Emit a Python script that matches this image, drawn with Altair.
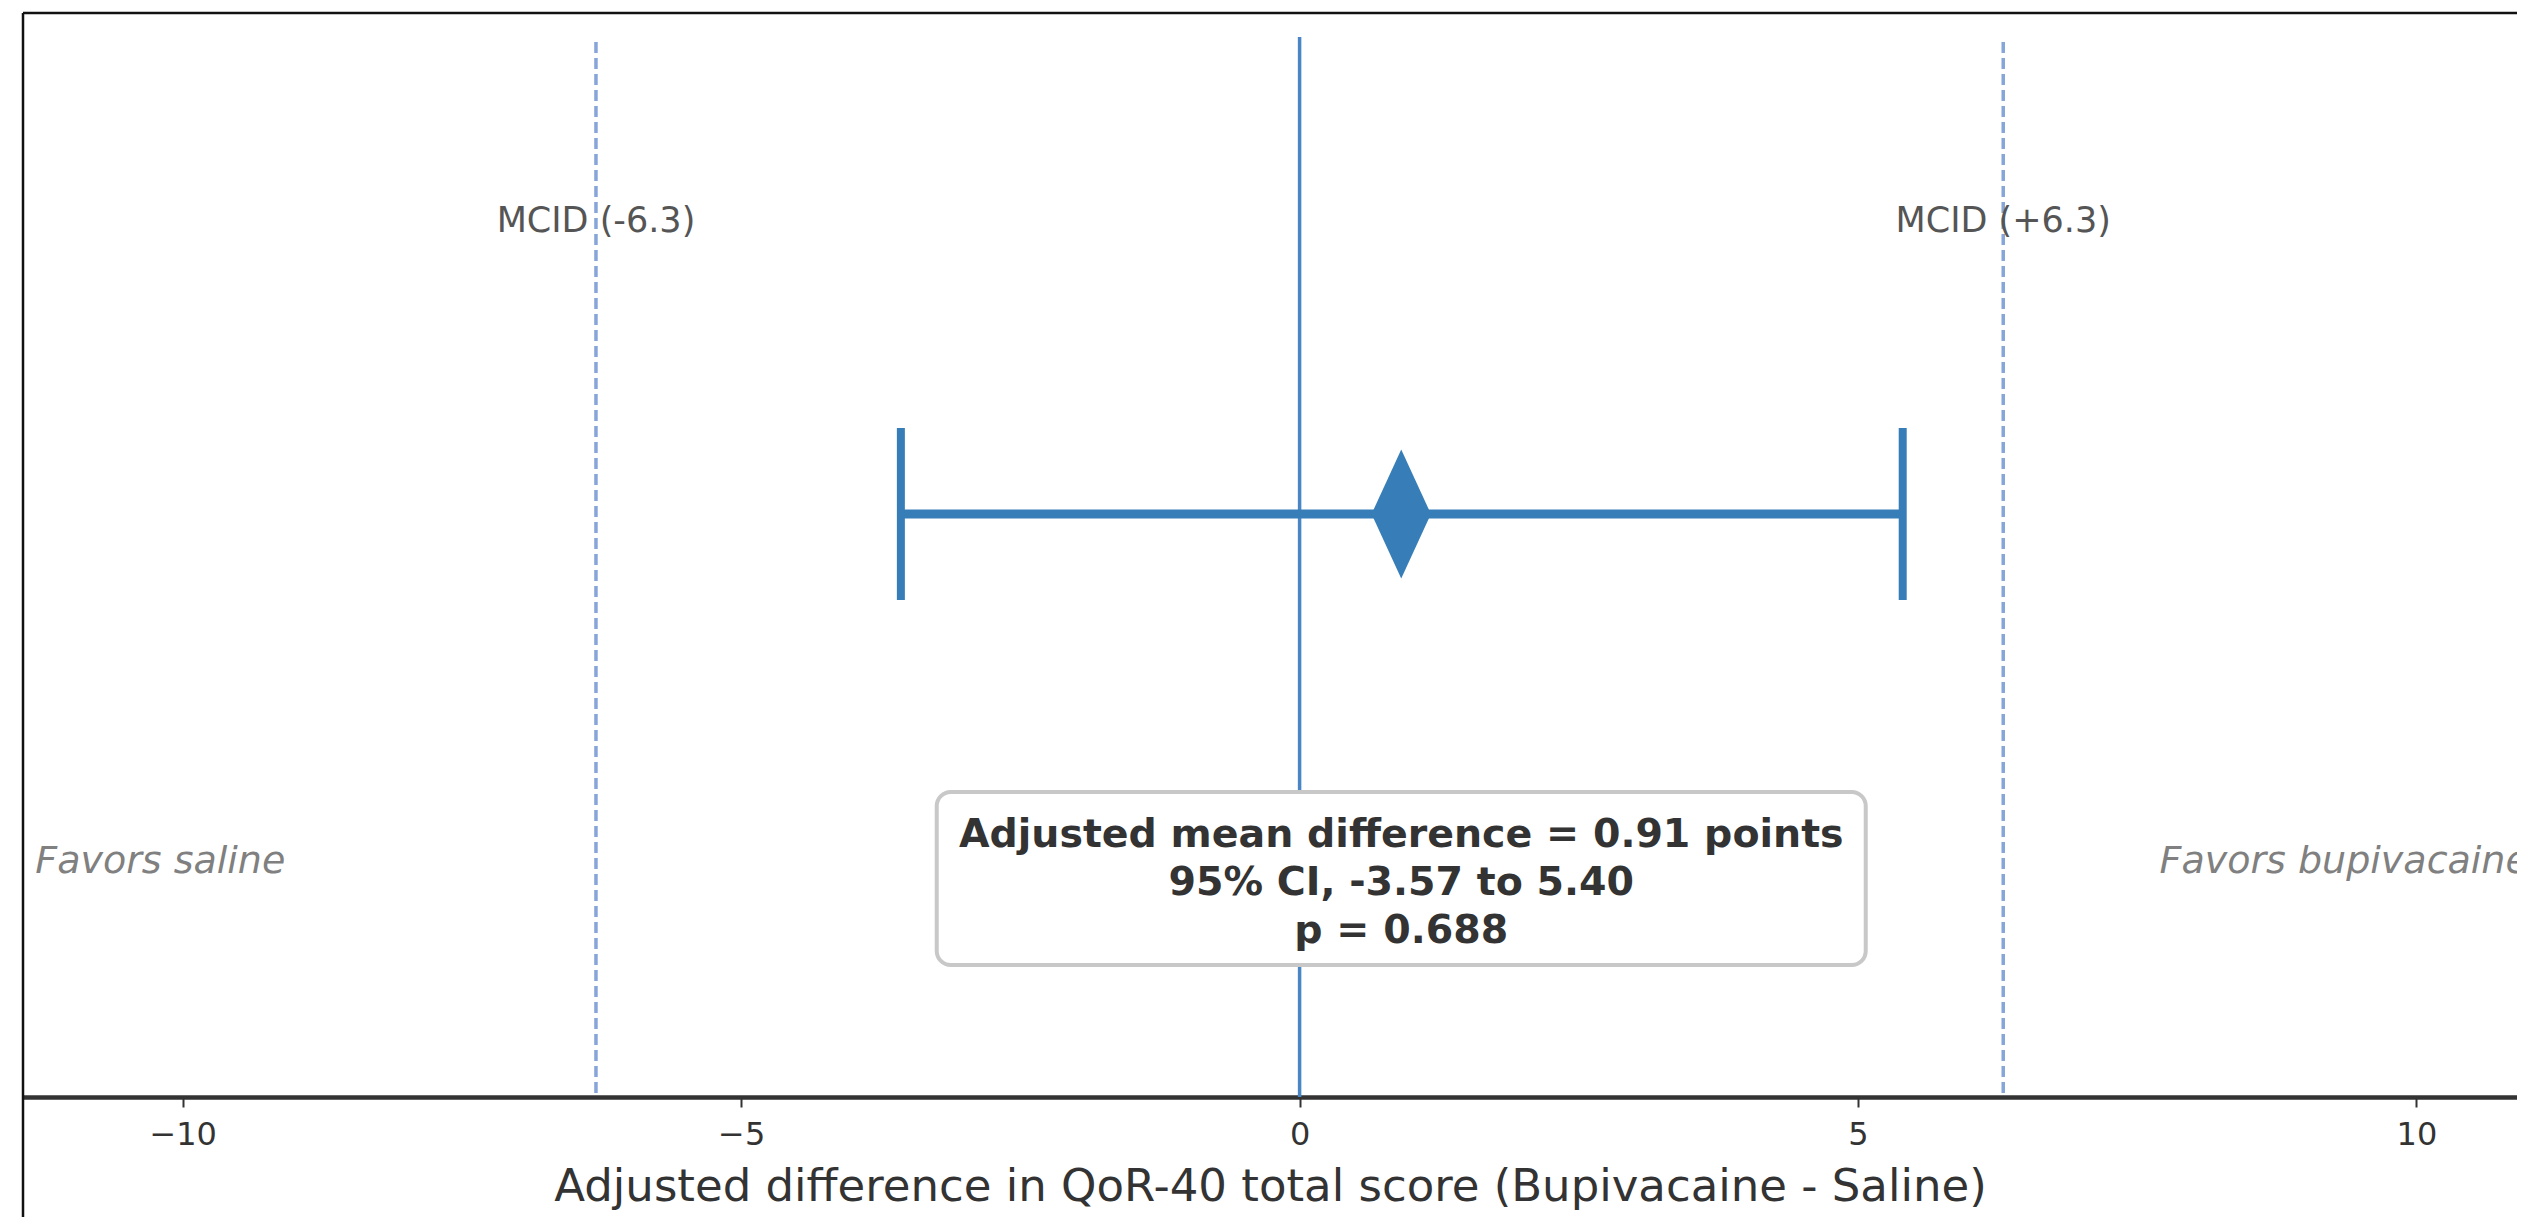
import altair as alt
import pandas as pd

# ---- data ----
mean_diff = [0.91]
ci_low = [-3.57]
ci_high = [5.40]
mcid_values = [-6.3, 6.3]
mcid_labels = ["MCID (-6.3)", "MCID (+6.3)"]
side_labels = ["Favors saline", "Favors bupivacaine"]
side_x = [-11.32, 7.70]
x_ticks = [-10, -5, 0, 5, 10]
box_lines = ["Adjusted mean difference = 0.91 points", "95% CI, -3.57 to 5.40", "p = 0.688"]
x_title = "Adjusted difference in QoR-40 total score (Bupivacaine - Saline)"

# ---- layout constants (pixels / data positions, not data) ----
W, H = 2494, 1060
X_DOMAIN = [-11.43, 10.90]
Y_DOMAIN = [-1.21, 0.99]
ROW_Y = 0.0
MCID_LABEL_Y = 0.608
SIDE_LABEL_Y = -0.722
BOX_Y = -0.7565
FONT = "DejaVu Sans"
BLUE = "#377eb8"

xs = alt.Scale(domain=X_DOMAIN, nice=False, zero=False)
ys = alt.Scale(domain=Y_DOMAIN, nice=False, zero=False)

est = pd.DataFrame({"mean": mean_diff, "lo": ci_low, "hi": ci_high, "row": [ROW_Y]})
caps = pd.DataFrame({"x": ci_low + ci_high, "row": [ROW_Y, ROW_Y]})
mcid = pd.DataFrame({"x": mcid_values, "label": mcid_labels, "ly": [MCID_LABEL_Y] * 2})
side = pd.DataFrame({"x": side_x, "label": side_labels, "ly": [SIDE_LABEL_Y] * 2})
zero_df = pd.DataFrame({"x": [0]})
box_df = pd.DataFrame({"x": mean_diff, "y": [BOX_Y], "text": ["\n".join(box_lines)]})

# figure frame (top and left border)
frame_top = alt.Chart(zero_df).mark_rule(color="#111111", strokeWidth=2.5).encode(
    x=alt.value(0), x2=alt.value(W), y=alt.value(-24))
frame_left = alt.Chart(zero_df).mark_rule(color="#111111", strokeWidth=2.5).encode(
    x=alt.value(0), y=alt.value(-24), y2=alt.value(H + 125))

zero_line = alt.Chart(zero_df).mark_rule(color="#4a86c5", strokeWidth=3.5).encode(
    x=alt.X("x:Q", scale=xs, title=x_title,
            axis=alt.Axis(values=x_ticks, format="d")),
    y=alt.value(0), y2=alt.value(H))

mcid_lines = alt.Chart(mcid).mark_rule(color="#86a5d9", strokeWidth=3.5, strokeDash=[11, 5]).encode(
    x=alt.X("x:Q", scale=xs), y=alt.value(5), y2=alt.value(H))

mcid_text = alt.Chart(mcid).mark_text(font=FONT, fontSize=35, color="#555555", baseline="middle").encode(
    x=alt.X("x:Q", scale=xs), y=alt.Y("ly:Q", scale=ys, axis=None), text="label:N")

side_text = alt.Chart(side).mark_text(font=FONT, fontSize=38, fontStyle="italic", color="#808080",
                                      align="left", baseline="middle").encode(
    x=alt.X("x:Q", scale=xs), y=alt.Y("ly:Q", scale=ys), text="label:N")

ci_line = alt.Chart(est).mark_rule(color=BLUE, strokeWidth=9).encode(
    x=alt.X("lo:Q", scale=xs), x2="hi:Q", y=alt.Y("row:Q", scale=ys))

cap_ticks = alt.Chart(caps).mark_tick(color=BLUE, orient="vertical", size=172, thickness=8, opacity=1).encode(
    x=alt.X("x:Q", scale=xs), y=alt.Y("row:Q", scale=ys))

diamond = alt.Chart(est).mark_point(shape="M0,-1L0.46,0L0,1L-0.46,0Z", filled=True, size=16641,
                                    color=BLUE, opacity=1).encode(
    x=alt.X("mean:Q", scale=xs), y=alt.Y("row:Q", scale=ys))

box = alt.Chart(box_df).mark_rect(width=929, height=173, cornerRadius=14, fill="white",
                                  stroke="#c8c8c8", strokeWidth=4).encode(
    x=alt.X("x:Q", scale=xs), y=alt.Y("y:Q", scale=ys))

box_text = alt.Chart(box_df).mark_text(font=FONT, fontSize=39.5, fontWeight="bold", color="#333333",
                                       lineBreak="\n", lineHeight=48, baseline="middle", dy=-43).encode(
    x=alt.X("x:Q", scale=xs), y=alt.Y("y:Q", scale=ys), text="text:N")

chart = alt.layer(frame_top, frame_left, zero_line, mcid_lines, mcid_text, side_text,
                  ci_line, cap_ticks, diamond, box, box_text).properties(
    width=W, height=H,
    autosize=alt.AutoSizeParams(type="none"),
    padding={"left": 15, "top": 29, "right": 0, "bottom": 120},
).configure_view(stroke=None).configure_axis(
    grid=False, domainColor="#333333", domainWidth=4.5, tickColor="#333333", tickWidth=2,
    tickSize=10, labelFont=FONT, labelFontSize=32, labelColor="#333333", labelPadding=12,
    titleFont=FONT, titleFontSize=45, titleFontWeight="normal", titleColor="#333333",
    titlePadding=14,
)

chart.save("out.html", embed_options={"renderer": "svg", "actions": False})
